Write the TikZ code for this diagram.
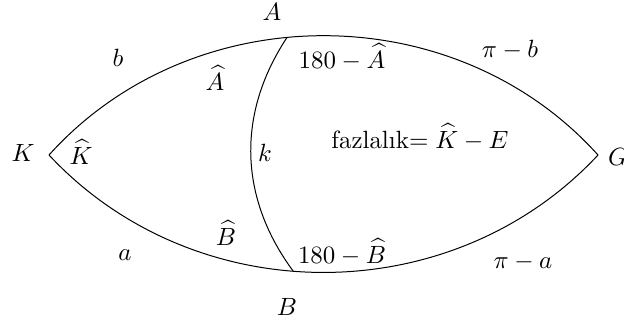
\documentclass[tikz,border=0pt]{standalone}
\usepackage{fontspec}
\usepackage{amsmath}
\usetikzlibrary{calc}
\def\px{0.0141cm}

\begin{document}
\begin{tikzpicture}[x=\px, y=\px]
    \useasboundingbox (0,0) rectangle (624,329);
    \coordinate (K) at (49,174);
    \coordinate (G) at (598,174);

    % the two sides K--G
    \draw (K) to[out=48, in=132] coordinate[pos=0.44] (A) (G);
    \draw (K) to[out=-47, in=-133] coordinate[pos=0.45] (B) (G);
    \draw (A) to[bend right=35] (B);

    \node (labA) at (272,317) {$A$};
    \node (labB) at (287,22) {$B$};
    \node (labK) at (23,176) {$K$};
    \node (labG) at (618,172) {$G$};

    \node (sb) at (118,271) {$b$};
    \node (spb) at (510,279) {$\pi-b$};
    \node (sa) at (125,74) {$a$};
    \node (spa) at (523,67) {$\pi-a$};
    \node (sk) at (265,176) {$k$};

    \node (angA) at (215,251) {$\widehat{A}$};
    \node (angAo) at (342,272) {$180-\widehat{A}$};
    \node (angB) at (226,96) {$\widehat{B}$};
    \node (angBo) at (342,77) {$180-\widehat{B}$};
    \node (angK) at (81,177) {$\widehat{K}$};

    \node (excess) at (420,192) {fazlalık$=\widehat{K}-E$};
\end{tikzpicture}
\end{document}
